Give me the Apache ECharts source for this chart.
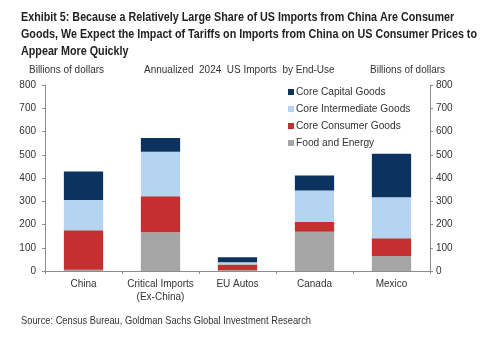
<!DOCTYPE html>
<html>
<head>
<meta charset="utf-8">
<script src="https://cdn.jsdelivr.net/npm/echarts@6/dist/echarts.min.js"></script>
<style>
html,body{margin:0;padding:0;background:#fff;}
#chart{width:500px;height:342px;}
</style>
</head>
<body>
<div id="chart"></div>
<script>
// Annualized 2024 US imports by end-use, billions of dollars
const categories = ['China', 'Critical Imports\n(Ex-China)', 'EU Autos', 'Canada', 'Mexico'];
const foodEnergy = [5, 167, 3, 169, 64];
const coreConsumer = [170, 155, 25, 43, 77];
const coreIntermediate = [130, 191, 10, 134, 176];
const coreCapital = [123, 59, 21, 65, 187];
const yTicks = [0, 100, 200, 300, 400, 500, 600, 700, 800];

const titleLines = [
  'Exhibit 5: Because a Relatively Large Share of US Imports from China Are Consumer',
  'Goods, We Expect the Impact of Tariffs on Imports from China on US Consumer Prices to',
  'Appear More Quickly'
];
const sourceText = 'Source: Census Bureau, Goldman Sachs Global Investment Research';

const colors = {
  capital: '#0c3360',
  intermediate: '#b4d4ef',
  consumer: '#c3302f',
  food: '#a5a5a5'
};

const chart = echarts.init(document.getElementById('chart'), null, {renderer: 'canvas'});

const baseFont = 'Liberation Sans, Arial, sans-serif';
const axisFont = {fontFamily: baseFont, fontSize: 10, color: '#333', fontWeight: 'normal'};
const yMin = yTicks[0], yMax = yTicks[yTicks.length - 1], yStep = yTicks[1] - yTicks[0];

// Condensed look for the heading and source: squeeze the text horizontally
const measureCtx = document.createElement('canvas').getContext('2d');
function squeeze(text, font, width) {
  measureCtx.font = font;
  return width / measureCtx.measureText(text).width;
}
const titleFont = 'bold 13px ' + baseFont;
const titleScale = squeeze(titleLines[1], titleFont, 456);
const sourceFont = '11px ' + baseFont;
const sourceScale = squeeze(sourceText, sourceFont, 290);

function valueAxis(position, margin) {
  return {
    type: 'value',
    position: position,
    min: yMin, max: yMax, interval: yStep,
    axisLine: {show: true, lineStyle: {color: '#8c8c8c', width: 1}},
    axisTick: {show: true, length: 3, lineStyle: {color: '#8c8c8c'}},
    splitLine: {show: false},
    axisLabel: Object.assign({margin: margin}, axisFont)
  };
}

function bar(name, data, color) {
  return {
    name: name,
    type: 'bar',
    stack: 'total',
    data: data,
    barWidth: '51%',
    itemStyle: {color: color},
    emphasis: {disabled: true}
  };
}

chart.setOption({
  animation: false,
  textStyle: {fontFamily: baseFont},
  title: [
    {text: 'Billions of dollars', left: 29, top: 65, padding: 0, textStyle: axisFont},
    {text: 'Annualized  2024  US Imports  by End-Use', left: 144, top: 65, padding: 0, textStyle: axisFont},
    {text: 'Billions of dollars', left: 370, top: 65, padding: 0, textStyle: axisFont}
  ],
  graphic: [
    {
      type: 'text', left: 21, top: 9, scaleX: titleScale, originX: 0,
      style: {text: titleLines.join('\n'), font: titleFont, lineHeight: 17, fill: '#222'}
    },
    {
      type: 'text', left: 21, top: 315, scaleX: sourceScale, originX: 0,
      style: {text: sourceText, font: sourceFont, fill: '#333'}
    }
  ],
  legend: {
    orient: 'vertical',
    left: 288, top: 86, padding: 0,
    itemWidth: 6, itemHeight: 6, itemGap: 5,
    icon: 'rect',
    selectedMode: false,
    textStyle: {fontFamily: baseFont, fontSize: 10.2, lineHeight: 12, color: '#333', padding: [0, 0, 0, -3]},
    data: ['Core Capital Goods', 'Core Intermediate Goods', 'Core Consumer Goods', 'Food and Energy']
  },
  grid: {left: 45, right: 70, top: 85, bottom: 71, containLabel: false},
  xAxis: {
    type: 'category',
    data: categories,
    axisLine: {lineStyle: {color: '#8c8c8c'}},
    axisTick: {show: true, length: 3, lineStyle: {color: '#8c8c8c'}},
    axisLabel: Object.assign({margin: 7, lineHeight: 13, interval: 0}, axisFont)
  },
  yAxis: [valueAxis('left', 9), valueAxis('right', 6)],
  series: [
    bar('Food and Energy', foodEnergy, colors.food),
    bar('Core Consumer Goods', coreConsumer, colors.consumer),
    bar('Core Intermediate Goods', coreIntermediate, colors.intermediate),
    bar('Core Capital Goods', coreCapital, colors.capital)
  ]
});
</script>
</body>
</html>
